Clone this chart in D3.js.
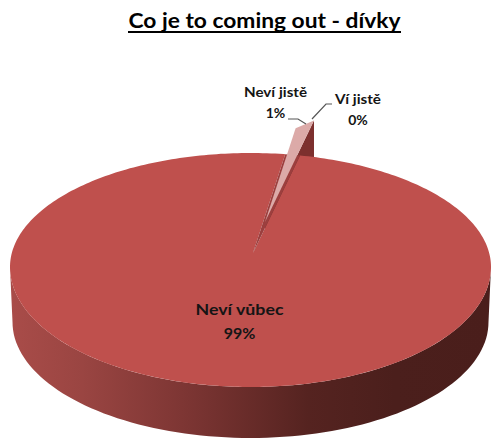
<!DOCTYPE html>
<html>
<head>
<meta charset="utf-8">
<script src="https://cdn.jsdelivr.net/npm/d3@7"></script>
<style>
  html, body { margin: 0; padding: 0; background: #fff; }
  svg { display: block; }
  text { font-family: Lato, "Open Sans", sans-serif; font-weight: 700; fill: #151515; }
</style>
</head>
<body>
<svg id="pie" width="491" height="438"></svg>
<script>
const titleText = "Co je to coming out - dívky";
const categories = ["Neví jistě", "Ví jistě", "Neví vůbec"];
const percents = [1, 0, 99];

const svg = d3.select("svg#pie");

// shape of the tilted pie, near half is a bit deeper than the far half
const cx = 250.5, cy = 267, rx = 240.5, ryFar = 114, ryNear = 120;
const wallCy = 322, wallRx = 238, wallRy = 116;
const apex = [253, 253]; // where the big slice comes to a point
const tip = [265, 222]; // tip of the pulled out slice
const firstAngle = (8.3 * Math.PI) / 180;

const slices = d3
  .pie()
  .sort(null)
  .startAngle(firstAngle)
  .endAngle(firstAngle + 2 * Math.PI)(percents);

const rim = (a) => {
  const c = Math.cos(a);
  return [cx + rx * Math.sin(a), cy - (c > 0 ? ryFar : ryNear) * c];
};
const wallRim = (a) => [
  cx + wallRx * Math.sin(a),
  wallCy - wallRy * Math.cos(a),
];
const line = d3.line();

// side wall
const defs = svg.append("defs");
const sideGrad = defs
  .append("linearGradient")
  .attr("id", "side")
  .attr("gradientUnits", "userSpaceOnUse")
  .attr("x1", cx - rx)
  .attr("x2", cx + rx)
  .attr("y1", 0)
  .attr("y2", 0);
[
  [0, "#a94c49"],
  [0.15, "#9a4542"],
  [0.37, "#7c3533"],
  [0.62, "#552320"],
  [0.8, "#4b1f1c"],
  [1, "#4a1e1b"],
].forEach((s) => sideGrad.append("stop").attr("offset", s[0]).attr("stop-color", s[1]));

const lowerHalf = d3.range(Math.PI / 2, (3 * Math.PI) / 2 + 0.001, Math.PI / 90);
svg
  .append("path")
  .attr("fill", "url(#side)")
  .attr(
    "d",
    line(
      lowerHalf
        .map((a) => rim(a))
        .concat(lowerHalf.slice().reverse().map((a) => wallRim(a)))
    )
  );

const small = slices[0];
const big = slices[2];

// pulled out slice corners
const pullOut = (a, k) => {
  const p = rim(a);
  return [tip[0] + k * (p[0] - apex[0]), tip[1] + k * (p[1] - apex[1])];
};
const smallLeft = pullOut(small.startAngle, 0.95);
const smallRight = pullOut(small.endAngle, 1.04);
const depth = wallCy - cy;

// wall of the pulled out slice, mostly hidden behind the big one
svg
  .append("path")
  .attr("fill", "#7d302e")
  .attr(
    "d",
    line([
      tip,
      smallRight,
      [smallRight[0], smallRight[1] + depth],
      [tip[0], tip[1] + depth],
    ]) + "Z"
  );

// big slice top
const bigAngles = d3.range(big.startAngle, big.endAngle, Math.PI / 180);
bigAngles.push(big.endAngle);
svg
  .append("path")
  .attr("fill", "#bf504d")
  .attr("d", line([apex].concat(bigAngles.map((a) => rim(a)))) + "Z");

// dark gap left by the small slice
svg
  .append("path")
  .attr("fill", "#9c3f3e")
  .attr("d", line([apex, rim(small.startAngle), rim(small.endAngle)]) + "Z");

// small slice top
svg
  .append("path")
  .attr("fill", "#dcaaa8")
  .attr("d", line([tip, smallLeft, smallRight]) + "Z");

// title
svg
  .append("text")
  .attr("x", 264.5)
  .attr("y", 28)
  .attr("text-anchor", "middle")
  .attr("font-size", 21)
  .attr("textLength", 272)
  .attr("lengthAdjust", "spacingAndGlyphs")
  .style("fill", "#000")
  .text(titleText);
svg
  .append("line")
  .attr("x1", 128)
  .attr("x2", 401)
  .attr("y1", 32)
  .attr("y2", 32)
  .attr("stroke", "#000")
  .attr("stroke-width", 2);

// leader lines
const leaderStarts = [
  [[288, 119], [298, 119]],
  [[332, 104], [326, 104]],
];
const leaderEnds = [
  [306, 124],
  [312, 119],
];
svg
  .append("g")
  .selectAll("path")
  .data(leaderStarts)
  .join("path")
  .attr("fill", "none")
  .attr("stroke", "#555")
  .attr("stroke-width", 1.2)
  .attr("d", (d, i) => line(d.concat([leaderEnds[i]])));

// labels
const labelSpots = [
  { x: 275.5, y: 97, w: 63 },
  { x: 358, y: 104, w: 46 },
  { x: 239.5, y: 315, w: 88 },
];
const labels = svg
  .append("g")
  .selectAll("g")
  .data(slices)
  .join("g")
  .attr("transform", (d, i) => `translate(${labelSpots[i].x},${labelSpots[i].y})`);
labels
  .append("text")
  .attr("text-anchor", "middle")
  .attr("font-size", (d, i) => (i === 2 ? 16 : 14))
  .attr("textLength", (d, i) => labelSpots[i].w)
  .attr("lengthAdjust", "spacingAndGlyphs")
  .text((d, i) => categories[i]);
labels
  .append("text")
  .attr("text-anchor", "middle")
  .attr("y", (d, i) => (i === 2 ? 24 : 21))
  .attr("font-size", (d, i) => (i === 2 ? 16 : 14))
  .text((d) => `${d.data}%`);
</script>
</body>
</html>
